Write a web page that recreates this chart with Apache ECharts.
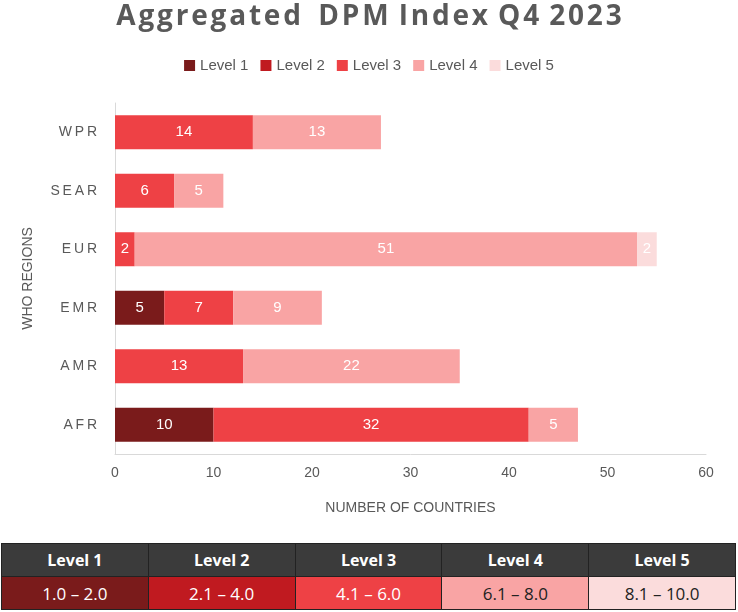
<!DOCTYPE html>
<html><head><meta charset="utf-8">
<script src="https://cdn.jsdelivr.net/npm/echarts@6/dist/echarts.min.js"></script>
<style>
body{margin:0;background:#fff;font-family:"Open Sans",sans-serif;}
#c{width:738px;height:540px;}
table{position:absolute;left:1px;top:543px;width:735px;border-collapse:collapse;table-layout:fixed;font-family:"Liberation Sans Narrow","Open Sans",sans-serif;}
td{border:1px solid #222;text-align:center;height:30px;font-size:17px;}
tr.h td{background:#3b3b3b;color:#fff;font-weight:bold;font-size:16px;}
</style></head><body>
<div id="c"></div>
<table id="t"></table>
<script>
const categories=['AFR','AMR','EMR','EUR','SEAR','WPR'];
const levels=['Level 1','Level 2','Level 3','Level 4','Level 5'];
const level1=[10,0,5,0,0,0];
const level2=[0,0,0,0,0,0];
const level3=[32,13,7,2,6,14];
const level4=[5,22,9,51,5,13];
const level5=[0,0,0,2,0,0];
const ranges=['1.0 – 2.0','2.1 – 4.0','4.1 – 6.0','6.1 – 8.0','8.1 – 10.0'];
const colors=['#7a1b1b','#c01a20','#ee4145','#f9a4a4','#fbdcdc'];
const txt=['#fff','#fff','#fff','#222','#222'];
const vals=[level1,level2,level3,level4,level5];
const ch=echarts.init(document.getElementById('c'));
ch.setOption({
 title:{text:'A g g r e g a t e d   D P M  I n d e x  Q 4  2 0 2 3'.replace(/ (?! )/g,'\u200a'),left:'center',top:-2,textStyle:{fontSize:28,fontWeight:'bold',color:'#595959',fontFamily:'Open Sans'}},
 legend:{top:53,left:'center',icon:'rect',itemWidth:11,itemHeight:11,itemGap:12,textStyle:{fontSize:15,color:'#595959'},data:levels},
 grid:{left:115,right:32,top:103,bottom:86},
 xAxis:{type:'value',min:0,max:60,interval:10,splitLine:{show:false},axisLine:{show:true,lineStyle:{color:'#d9d9d9'}},axisTick:{show:false},axisLabel:{fontSize:14,color:'#595959',margin:12},
  name:'NUMBER OF COUNTRIES',nameLocation:'middle',nameGap:47,nameTextStyle:{fontSize:14,color:'#595959'}},
 yAxis:{type:'category',data:categories,axisLine:{lineStyle:{color:'#d9d9d9'}},axisTick:{show:false},axisLabel:{fontSize:14,color:'#595959',margin:18,formatter:v=>v.split('').join('\u2009')},
  name:'WHO REGIONS',nameLocation:'middle',nameGap:80,nameTextStyle:{fontSize:14,color:'#595959'}},
 series:levels.map((n,i)=>({name:n,type:'bar',stack:'s',barWidth:34,itemStyle:{color:colors[i]},data:vals[i],
  label:{show:true,color:'#fff',fontSize:15,formatter:p=>p.value?p.value:''}}))
});
const t=document.getElementById('t');
t.innerHTML='<tr class="h">'+levels.map(l=>'<td>'+l+'</td>').join('')+'</tr><tr>'+ranges.map((r,i)=>'<td style="background:'+colors[i]+';color:'+txt[i]+'">'+r+'</td>').join('')+'</tr>';
</script></body></html>
